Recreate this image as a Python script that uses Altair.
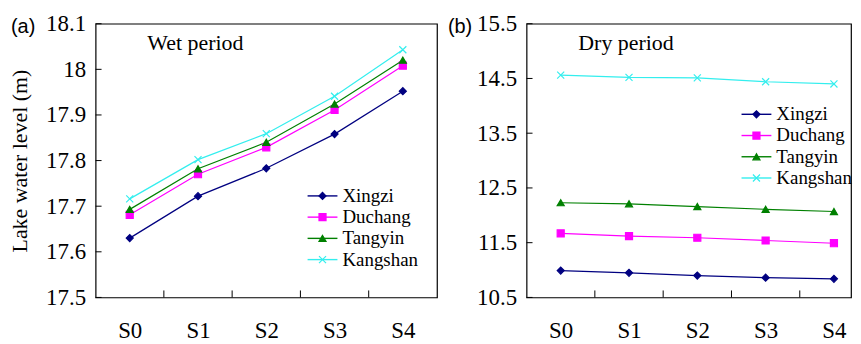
import altair as alt
import pandas as pd

scenarios = ["S0", "S1", "S2", "S3", "S4"]
series_names = ["Xingzi", "Duchang", "Tangyin", "Kangshan"]
series_colors = ["#000080", "#FF00FF", "#008000", "#33EEEE"]
series_shapes = ["diamond", "square", "triangle-up", "M-1,-1L1,1M-1,1L1,-1"]

wet_xingzi = [17.630, 17.722, 17.783, 17.858, 17.952]
wet_duchang = [17.681, 17.770, 17.829, 17.911, 18.008]
wet_tangyin = [17.693, 17.782, 17.840, 17.924, 18.020]
wet_kangshan = [17.716, 17.802, 17.859, 17.941, 18.043]

dry_xingzi = [10.99, 10.95, 10.90, 10.86, 10.84]
dry_duchang = [11.67, 11.62, 11.59, 11.54, 11.49]
dry_tangyin = [12.23, 12.21, 12.16, 12.11, 12.07]
dry_kangshan = [14.56, 14.52, 14.51, 14.44, 14.40]

wet_ticks = [17.5, 17.6, 17.7, 17.8, 17.9, 18.0, 18.1]
dry_ticks = [10.5, 11.5, 12.5, 13.5, 14.5, 15.5]
x_tick_marks = [0.5, 1.5, 2.5, 3.5]

wet_title = "Wet period"
dry_title = "Dry period"
y_title = "Lake water level (m)"

SERIF = "Liberation Serif"
SANS = "Liberation Sans"

stroke_scale = alt.Scale(domain=series_names, range=series_colors)
shape_scale = alt.Scale(domain=series_names, range=series_shapes)


def build_df(lists):
    rows = []
    for name, vals in zip(series_names, lists):
        for i, v in enumerate(vals):
            rows.append({"series": name, "idx": i, "scen": scenarios[i], "value": v})
    return pd.DataFrame(rows)


def panel(lists, yticks, width, xmax, tag, tag_x, title_text, ytitle, leg_range, leg_x0):
    height = 275
    df = build_df(lists)
    xenc = alt.X("idx:Q",
                 scale=alt.Scale(domain=[-0.5, xmax], nice=False, zero=False),
                 axis=alt.Axis(values=[0, 1, 2, 3, 4], labelExpr="'S' + datum.value",
                               title=None, labelPadding=22))
    if ytitle:
        yaxis = alt.Axis(values=yticks, labelExpr="format(datum.value, '~g')",
                         title=ytitle, titlePadding=14)
    else:
        yaxis = alt.Axis(values=yticks, labelExpr="format(datum.value, '~g')", title=None)
    yscale = alt.Scale(domain=[yticks[0], yticks[-1]], nice=False, zero=False)
    yenc = alt.Y("value:Q", scale=yscale, axis=yaxis)

    base = alt.Chart(df)
    lines = base.mark_line(strokeWidth=1.2).encode(
        x=xenc, y=yenc,
        stroke=alt.Stroke("series:N", scale=stroke_scale, legend=None),
        detail="series:N")
    points = base.mark_point(filled=True, size=50, strokeWidth=1.2, opacity=1).encode(
        x="idx:Q", y="value:Q",
        shape=alt.Shape("series:N", scale=shape_scale, legend=None),
        fill=alt.Fill("series:N", scale=stroke_scale, legend=None),
        stroke=alt.Stroke("series:N", scale=stroke_scale, legend=None))

    ytick_df = pd.DataFrame({"value": yticks})
    yticks_layer = alt.Chart(ytick_df).mark_rule(color="black", strokeWidth=1).encode(
        y="value:Q", x=alt.value(0), x2=alt.value(6))
    xtick_df = pd.DataFrame({"idx": x_tick_marks})
    xticks_layer = alt.Chart(xtick_df).mark_rule(color="black", strokeWidth=1).encode(
        x="idx:Q", y=alt.value(height), y2=alt.value(height - 7))

    one = pd.DataFrame({"k": [0]})
    title_layer = alt.Chart(one).mark_text(
        text=title_text, font=SERIF, fontSize=22, align="left", baseline="alphabetic",
        color="black").encode(x=alt.value(52), y=alt.value(26))
    tag_layer = alt.Chart(one).mark_text(
        text=tag, font=SANS, fontSize=20, align="left", baseline="alphabetic",
        color="black").encode(x=alt.value(tag_x), y=alt.value(9))

    inner = alt.layer(lines, points, yticks_layer, xticks_layer, title_layer, tag_layer)

    leg_df = pd.DataFrame({"series": series_names, "rank": list(range(len(series_names)))})
    ly = alt.Y("rank:Q", scale=alt.Scale(domain=[0, 3], range=leg_range, nice=False, zero=False),
               axis=None)
    lbase = alt.Chart(leg_df)
    leg_rule = lbase.mark_rule(strokeWidth=1.4).encode(
        x=alt.value(leg_x0), x2=alt.value(leg_x0 + 30), y=ly,
        stroke=alt.Stroke("series:N", scale=stroke_scale, legend=None))
    leg_pt = lbase.mark_point(filled=True, size=50, strokeWidth=1.2, opacity=1).encode(
        x=alt.value(leg_x0 + 15), y=ly,
        shape=alt.Shape("series:N", scale=shape_scale, legend=None),
        fill=alt.Fill("series:N", scale=stroke_scale, legend=None),
        stroke=alt.Stroke("series:N", scale=stroke_scale, legend=None))
    leg_txt = lbase.mark_text(font=SERIF, fontSize=19, align="left", baseline="middle",
                              color="black").encode(
        x=alt.value(leg_x0 + 35), y=ly, text="series:N")
    legend = alt.layer(leg_rule, leg_pt, leg_txt)

    return alt.layer(inner, legend).resolve_scale(y="independent").properties(
        width=width, height=height)


left = panel([wet_xingzi, wet_duchang, wet_tangyin, wet_kangshan], wet_ticks,
             343, 4.5, "(a)", -85, wet_title, y_title, [173, 237], 213)
right = panel([dry_xingzi, dry_duchang, dry_tangyin, dry_kangshan], dry_ticks,
              326, 4.25, "(b)", -79, dry_title, None, [91, 155], 216)

chart = alt.hconcat(left, right, spacing=9).properties(
    padding={"left": 0, "top": 3, "right": 0, "bottom": 0}
).configure(font=SERIF).configure_view(
    stroke="black", strokeWidth=1.2
).configure_axis(
    labelFont=SERIF, labelFontSize=23, labelColor="black", labelPadding=10,
    ticks=False, tickSize=0, domain=False, grid=False,
    titleFont=SERIF, titleFontSize=22, titleFontWeight="normal", titleColor="black"
).configure_axisX(labelPadding=22)

chart.save("out.html", embed_options={"renderer": "svg", "actions": False})
